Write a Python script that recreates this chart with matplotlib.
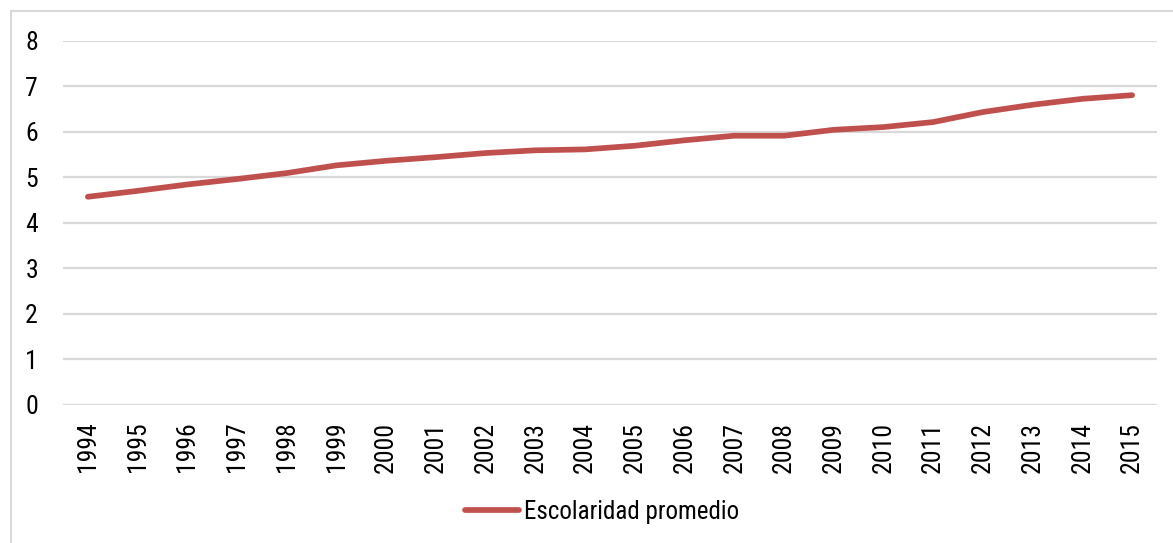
import matplotlib
matplotlib.use('Agg')
import matplotlib.pyplot as plt
from matplotlib.patches import Rectangle
from matplotlib.lines import Line2D

plt.rcParams['font.family'] = ['Liberation Sans Narrow', 'Roboto Condensed', 'Liberation Sans', 'DejaVu Sans']

# Average years of schooling, 1994-2015
years = [str(y) for y in range(1994, 2016)]
escolaridad = [4.57, 4.70, 4.84, 4.96, 5.09, 5.26, 5.36, 5.44, 5.53, 5.59, 5.61,
               5.69, 5.81, 5.91, 5.91, 6.04, 6.10, 6.21, 6.43, 6.59, 6.72, 6.80]
series_name = 'Escolaridad promedio'

W, H = 1173, 543
fig = plt.figure(figsize=(W / 100, H / 100), dpi=100)

# light outer frame
fig.patches.append(Rectangle((11 / W, -0.1), 1.2, 1.1 - 11 / H,
                             transform=fig.transFigure, fill=False,
                             edgecolor='#D9D9D9', linewidth=1.5))

ax = fig.add_axes([63 / W, (H - 405) / H, (1157 - 63) / W, (405 - 40.5) / H])
x = list(range(len(years)))
ax.plot(x, escolaridad, color='#C0504D', linewidth=4.1, solid_capstyle='round',
        solid_joinstyle='round', zorder=3)

ax.set_xlim(-0.5, len(years) - 0.5)
ax.set_ylim(0, 8)
ax.set_yticks(range(0, 9))
ax.set_xticks(x)
ax.set_xticklabels(years, rotation=90)
ax.tick_params(axis='both', length=0, labelsize=18.5)
ax.tick_params(axis='x', pad=12)
ax.tick_params(axis='y', pad=18)
ax.grid(axis='y', color='#D9D9D9', linewidth=1.6)
ax.set_axisbelow(True)
for s in ax.spines.values():
    s.set_visible(False)

handle = Line2D([], [], color='#C0504D', linewidth=4.1, solid_capstyle='round')
fig.legend([handle], [series_name], loc='center', bbox_to_anchor=(602 / W, (H - 512) / H),
           frameon=False, fontsize=18, handlelength=2.15, handletextpad=0.2)

fig.savefig('out.png', dpi=100)
